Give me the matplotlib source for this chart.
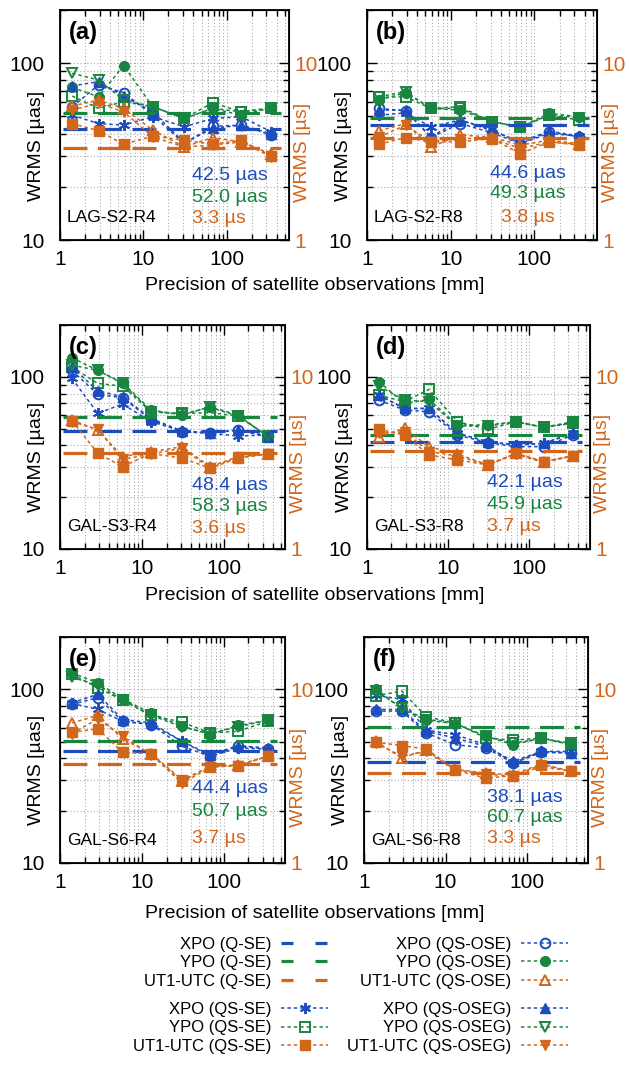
import matplotlib
matplotlib.use('Agg')
import matplotlib.pyplot as plt
from matplotlib.lines import Line2D
from matplotlib.ticker import NullFormatter, FixedLocator

plt.rcParams['font.family'] = ['Liberation Sans', 'DejaVu Sans']

# data; UT1-UTC in microseconds, pole in micro-arcsec
prec_mm = [1.4, 2.9, 5.8, 13, 31, 68, 150, 345]

panel_tags = ['(a)', '(b)', '(c)', '(d)', '(e)', '(f)']
panel_names = ['LAG-S2-R4', 'LAG-S2-R8', 'GAL-S3-R4', 'GAL-S3-R8', 'GAL-S6-R4', 'GAL-S6-R8']

xpo_q_se = [42.5, 44.6, 48.4, 42.1, 44.4, 38.1]
ypo_q_se = [52.0, 49.3, 58.3, 45.9, 50.7, 60.7]
ut1_q_se = [3.3, 3.8, 3.6, 3.7, 3.7, 3.3]

xpo_qs_se = [
    [50.8, 45.6, 44.6, 49.8, 43.7, 48.7, 49.8, 40.9],
    [50.8, 52.4, 43.7, 47.7, 42.2, 35.1, 40.0, 38.7],
    [97.8, 61.3, 69.5, 54.9, 48.4, 47.0, 45.3, 46.0],
    [78.3, 65.5, 65.5, 47.0, 42.0, 40.2, 41.1, 47.0],
    [82.9, 76.6, 65.5, 62.7, 50.2, 41.1, 45.9, 45.3],
    [92.3, 87.5, 58.2, 54.9, 48.0, 37.6, 43.9, 43.9],
]
xpo_qs_ose = [
    [56.7, 75.3, 68.1, 50.8, 35.1, 44.0, 44.6, 39.2],
    [55.5, 53.8, 38.0, 45.6, 40.4, 35.1, 40.9, 38.3],
    [109, 79.0, 75.6, 56.1, 48.0, 47.0, 49.1, 45.3],
    [73.3, 64.1, 62.7, 45.9, 41.5, 39.3, 39.3, 45.9],
    [81.8, 89.5, 65.5, 62.7, 47.0, 41.1, 47.0, 45.3],
    [74.9, 74.9, 56.1, 48.0, 46.0, 37.6, 43.3, 43.0],
]
xpo_qs_oseg = [
    [74.3, 78.7, 65.2, 53.1, 35.4, 42.8, 44.6, 40.0],
    [54.3, 54.3, 38.3, 47.7, 41.5, 35.9, 41.3, 38.7],
    [114, 82.9, 76.6, 57.3, 48.4, 47.4, 49.1, 44.9],
    [78.3, 65.5, 65.5, 47.0, 42.0, 40.2, 41.1, 47.0],
    [83.7, 93.6, 67.0, 64.1, 50.2, 42.0, 47.4, 45.9],
    [76.6, 76.6, 57.3, 52.5, 47.0, 38.5, 43.9, 43.0],
]
ypo_qs_se = [
    [65.2, 55.5, 60.6, 56.7, 48.7, 59.8, 53.1, 55.5],
    [64.1, 64.6, 55.5, 55.5, 46.7, 43.7, 50.8, 47.7],
    [114, 91.5, 88.3, 62.7, 61.3, 61.9, 59.2, 44.9],
    [78.3, 71.7, 84.5, 54.9, 49.5, 54.9, 50.9, 53.7],
    [122, 102, 86.7, 70.7, 64.7, 56.1, 57.3, 65.5],
    [91.5, 97.8, 69.5, 64.1, 52.5, 50.9, 52.5, 48.0],
]
ypo_qs_ose = [
    [73.0, 64.6, 97.0, 56.7, 48.7, 55.5, 50.8, 56.0],
    [61.9, 68.1, 55.5, 54.3, 46.7, 43.7, 52.0, 49.8],
    [129, 109, 92.3, 64.1, 60.0, 67.0, 60.0, 44.9],
    [93.6, 70.1, 73.9, 52.5, 52.5, 54.9, 50.9, 54.2],
    [124, 109, 88.3, 72.6, 61.3, 54.9, 61.9, 66.4],
    [101, 76.6, 66.4, 63.5, 53.7, 48.0, 52.5, 48.0],
]
ypo_qs_oseg = [
    [87.7, 80.4, 61.9, 56.7, 48.7, 55.5, 53.1, 56.0],
    [64.6, 69.0, 55.5, 56.7, 46.7, 43.3, 50.8, 49.3],
    [117, 109, 91.5, 62.7, 60.8, 66.4, 59.2, 45.3],
    [88.3, 73.3, 71.7, 51.8, 51.8, 54.9, 50.9, 54.9],
    [117, 106, 86.7, 70.7, 60.8, 55.6, 60.8, 66.4],
    [97.8, 78.3, 67.0, 64.1, 53.7, 49.1, 51.8, 49.1],
]
ut1_qs_se = [
    [4.56, 4.15, 3.48, 3.87, 3.67, 3.48, 3.67, 2.98],
    [3.48, 3.80, 3.59, 3.59, 3.75, 3.08, 3.59, 3.44],
    [5.56, 3.59, 3.01, 3.59, 3.37, 2.95, 3.37, 3.56],
    [4.95, 4.59, 3.52, 3.29, 3.08, 3.59, 3.22, 3.47],
    [5.66, 5.92, 4.33, 4.26, 3.01, 3.59, 3.64, 4.11],
    [4.95, 4.74, 4.53, 3.44, 3.08, 3.18, 3.68, 3.37],
]
ut1_qs_ose = [
    [5.72, 6.19, 5.55, 4.18, 3.36, 3.80, 3.59, 3.06],
    [4.15, 4.56, 3.36, 3.92, 3.83, 3.44, 3.67, 3.51],
    [5.61, 4.91, 3.44, 3.67, 3.93, 3.01, 3.44, 3.56],
    [4.49, 5.02, 3.93, 3.56, 3.08, 3.59, 3.22, 3.47],
    [6.41, 7.07, 5.18, 4.26, 2.95, 3.59, 3.68, 4.11],
    [5.02, 4.02, 4.49, 3.47, 3.29, 3.22, 3.72, 3.37],
]
ut1_qs_oseg = [
    [5.43, 5.93, 5.31, 3.83, 3.36, 3.44, 3.59, 2.95],
    [3.83, 4.46, 3.59, 3.75, 3.75, 3.29, 3.59, 3.48],
    [5.49, 4.95, 3.32, 3.56, 3.85, 2.95, 3.41, 3.56],
    [4.70, 4.80, 3.68, 3.47, 3.08, 3.56, 3.18, 3.47],
    [5.56, 6.76, 5.37, 4.20, 2.88, 3.55, 3.64, 4.11],
    [4.91, 4.11, 4.39, 3.44, 3.26, 3.15, 3.60, 3.37],
]

BLUE = '#1c4cbd'
GREEN = '#188640'
ORANGE = '#d2661a'

W, H = 629, 1065
fig = plt.figure(figsize=(W / 100, H / 100), dpi=100)

# axes boxes in pixels: left, right, top, bottom
boxes = [(60, 289, 10, 240), (367, 597, 10, 240),
         (60, 285, 325, 549), (367, 590, 325, 549),
         (60, 285, 637, 863), (364, 588, 637, 863)]
# x position / alignment of the value annotations
note_x = [(0.575, 'left'), (0.70, 'center'), (0.585, 'left'),
          (0.54, 'left'), (0.585, 'left'), (0.55, 'left')]
note_y = [(0.28, 0.185, 0.095), (0.29, 0.20, 0.10), (0.285, 0.19, 0.09),
          (0.295, 0.20, 0.10), (0.33, 0.23, 0.11), (0.29, 0.20, 0.11)]

dot = (0, (2.2, 2.0))
qdash = (0, (7.5, 3.3))
ms = 7
handles = {}

for i, (l, r, t, b) in enumerate(boxes):
    ax = fig.add_axes([l / W, 1 - b / H, (r - l) / W, (b - t) / H])
    ax2 = ax.twinx()
    for a in (ax, ax2):
        a.set_xscale('log')
        a.set_yscale('log')
    ax.set_xlim(1, 560)
    ax.set_ylim(10, 200)
    ax2.set_ylim(1, 20)

    span = [prec_mm[0] / 1.3, prec_mm[-1] * 1.3]

    # QS series
    h1 = ax.plot(prec_mm, xpo_qs_se[i], ls=dot, lw=1.1, color=BLUE, marker=(6, 2, 0), ms=ms + 1, mew=1.4)[0]
    h2 = ax.plot(prec_mm, ypo_qs_se[i], ls=dot, lw=1.1, color=GREEN, marker='s', ms=ms, mfc='none', mew=1.4)[0]
    h3 = ax2.plot(prec_mm, ut1_qs_se[i], ls=dot, lw=1.1, color=ORANGE, marker='s', ms=ms)[0]
    h4 = ax.plot(prec_mm, xpo_qs_ose[i], ls=dot, lw=1.1, color=BLUE, marker='o', ms=ms, mfc='none', mew=1.4)[0]
    h5 = ax.plot(prec_mm, ypo_qs_ose[i], ls=dot, lw=1.1, color=GREEN, marker='o', ms=ms)[0]
    h6 = ax2.plot(prec_mm, ut1_qs_ose[i], ls=dot, lw=1.1, color=ORANGE, marker='^', ms=ms, mfc='none', mew=1.4)[0]
    h7 = ax.plot(prec_mm, xpo_qs_oseg[i], ls=dot, lw=1.1, color=BLUE, marker='^', ms=ms)[0]
    h8 = ax.plot(prec_mm, ypo_qs_oseg[i], ls=dot, lw=1.1, color=GREEN, marker='v', ms=ms, mfc='none', mew=1.4)[0]
    h9 = ax2.plot(prec_mm, ut1_qs_oseg[i], ls=dot, lw=1.1, color=ORANGE, marker='v', ms=ms)[0]

    # Q-SE reference levels
    ax.plot(span, [xpo_q_se[i]] * 2, ls=qdash, lw=2.3, color=BLUE)
    ax.plot(span, [ypo_q_se[i]] * 2, ls=qdash, lw=2.3, color=GREEN)
    ax2.plot(span, [ut1_q_se[i]] * 2, ls=qdash, lw=2.3, color=ORANGE)

    if i == 0:
        handles = dict(se=[h1, h2, h3], ose=[h4, h5, h6], oseg=[h7, h8, h9])

    # axes cosmetics
    ax.set_xticks([1, 10, 100], ['1', '10', '100'])
    ax.set_yticks([10, 100], ['10', '100'])
    ax.xaxis.set_minor_formatter(NullFormatter())
    ax.yaxis.set_minor_formatter(NullFormatter())
    ax.tick_params(which='both', direction='in', top=True, right=True, labelsize=15, width=1.0)
    ax.tick_params(which='major', length=7)
    ax.tick_params(which='minor', length=4)
    ax.tick_params(axis='y', pad=11)
    ax.tick_params(axis='x', pad=7)
    ax.grid(which='both', ls=(0, (1, 2)), color='#ababab', lw=0.8)
    for s in ax.spines.values():
        s.set_linewidth(1.3)

    ax2.set_yticks([1, 10], ['1', '10'])
    ax2.yaxis.set_minor_locator(FixedLocator([]))
    ax2.yaxis.set_minor_formatter(NullFormatter())
    ax2.tick_params(which='both', length=0, labelsize=15, labelcolor=ORANGE, pad=4)

    ax.set_ylabel('WRMS [µas]', fontsize=14)
    ax.yaxis.set_label_coords(-0.065, 0.41)
    ax2.set_ylabel('WRMS [µs]', fontsize=14, color=ORANGE)
    ax2.yaxis.set_label_coords(1.02, 0.38)

    ax.text(0.04, 0.9, panel_tags[i], transform=ax.transAxes, fontsize=17,
            fontweight='bold', ha='left', va='center')
    ax.text(0.03, 0.1, panel_names[i], transform=ax.transAxes, fontsize=12.5,
            ha='left', va='center')
    nx, ha = note_x[i]
    ny = note_y[i]
    ax.text(nx, ny[0], f'{xpo_q_se[i]:.1f} µas', transform=ax.transAxes, fontsize=14,
            color=BLUE, ha=ha, va='center')
    ax.text(nx, ny[1], f'{ypo_q_se[i]:.1f} µas', transform=ax.transAxes, fontsize=14,
            color=GREEN, ha=ha, va='center')
    ax.text(nx, ny[2], f'{ut1_q_se[i]:.1f} µs', transform=ax.transAxes, fontsize=14,
            color=ORANGE, ha=ha, va='center')

for yc in (285, 596, 914):
    fig.text(0.5, 1 - yc / H, 'Precision of satellite observations [mm]', fontsize=14,
             ha='center', va='center')

# legend proxies for the Q-SE levels: two short dashes
qleg = (0, (3.75, 6.9))
handles['q'] = [Line2D([], [], color=c, ls=qleg, lw=2.3) for c in (BLUE, GREEN, ORANGE)]

# legend in four blocks, labels right-aligned against the line samples
blocks = [
    ('q', ['XPO (Q-SE)', 'YPO (Q-SE)', 'UT1-UTC (Q-SE)'], 328, 937),
    ('ose', ['XPO (QS-OSE)', 'YPO (QS-OSE)', 'UT1-UTC (QS-OSE)'], 568, 937),
    ('se', ['XPO (QS-SE)', 'YPO (QS-SE)', 'UT1-UTC (QS-SE)'], 328, 1002),
    ('oseg', ['XPO (QS-OSEG)', 'YPO (QS-OSEG)', 'UT1-UTC (QS-OSEG)'], 568, 1002),
]
for key, labels, xr, yt in blocks:
    leg = fig.legend(handles[key], labels, loc='upper right',
                     bbox_to_anchor=(xr / W, 1 - yt / H), frameon=False,
                     markerfirst=False, numpoints=1, fontsize=12,
                     handlelength=2.8, handletextpad=0.6, labelspacing=0.2,
                     borderpad=0, borderaxespad=0)
    for col in leg._legend_handle_box.get_children():
        col.align = 'right'

fig.savefig('out.png', dpi=100)
